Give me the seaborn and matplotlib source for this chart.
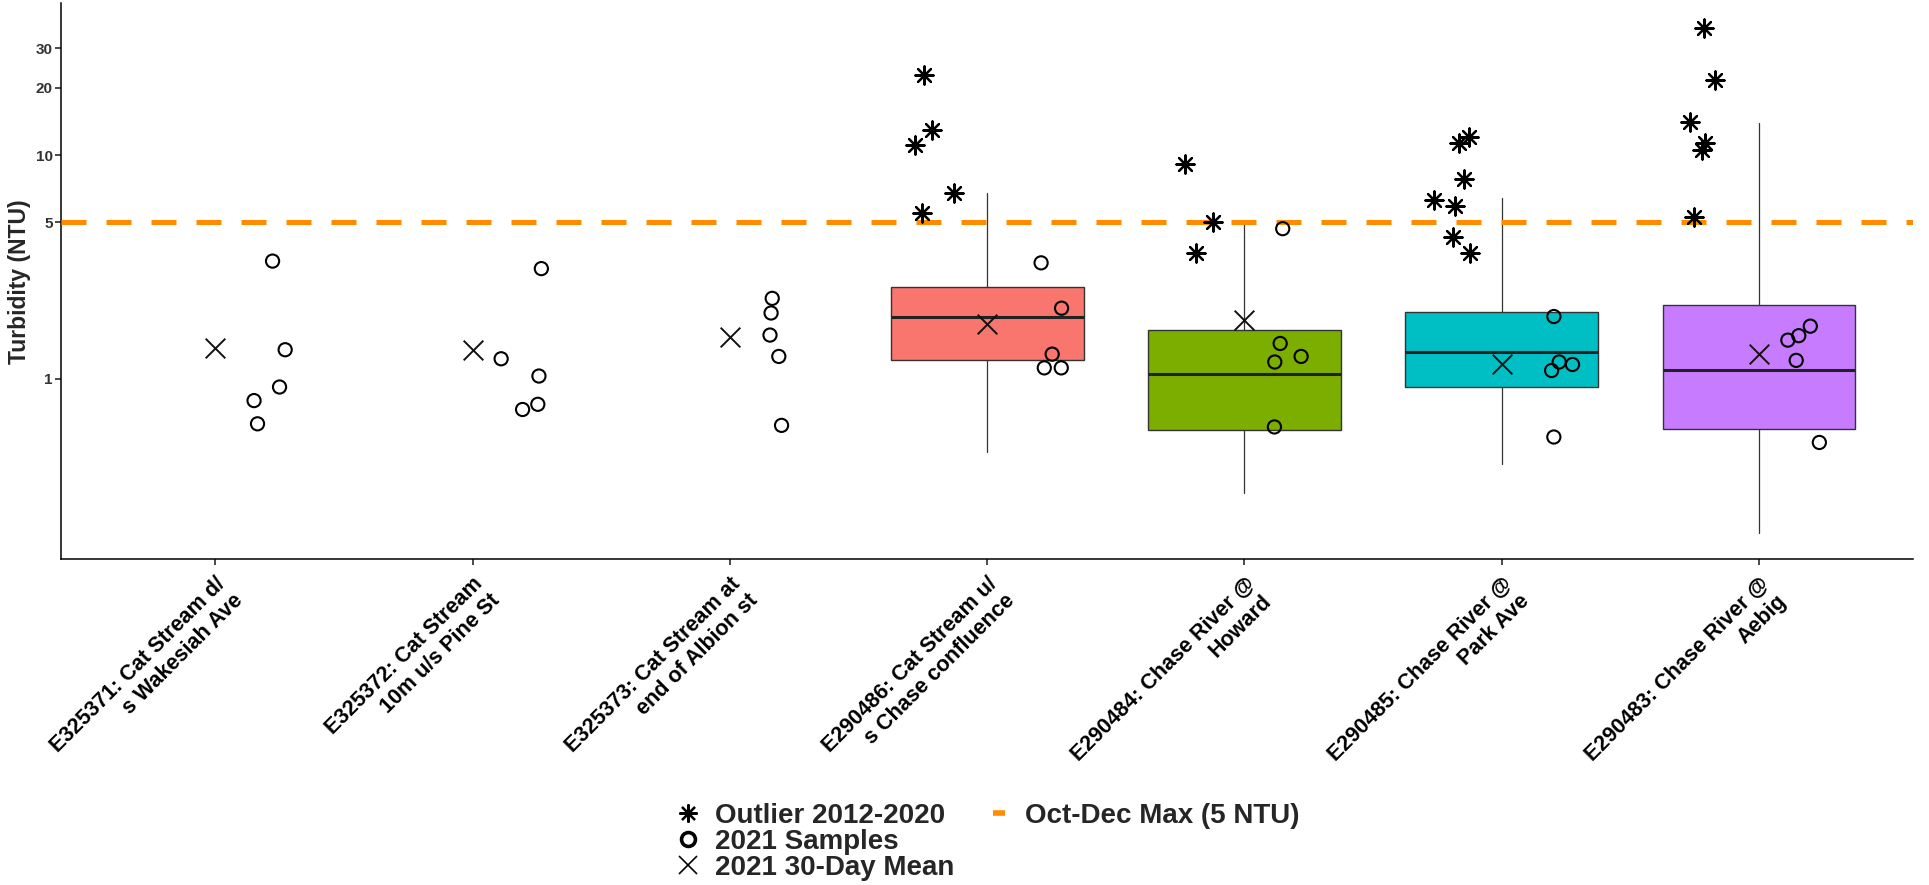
import numpy as np
import pandas as pd
import matplotlib
matplotlib.use("Agg")
import matplotlib.pyplot as plt
from matplotlib.lines import Line2D
from matplotlib.ticker import NullLocator
import seaborn as sns

# Sites (x categories)
sites = [
    "E325371: Cat Stream d/\ns Wakesiah Ave",
    "E325372: Cat Stream\n10m u/s Pine St",
    "E325373: Cat Stream at\nend of Albion st",
    "E290486: Cat Stream u/\ns Chase confluence",
    "E290484: Chase River @\nHoward",
    "E290485: Chase River @\nPark Ave",
    "E290483: Chase River @\nAebig",
]

# 2021 30-day mean per site
mean_2021 = [1.38, 1.35, 1.54, 1.76, 1.83, 1.16, 1.29]

# 2021 samples per site
samples_2021 = [
    [3.36, 1.35, 0.92, 0.80, 0.63],
    [3.11, 1.23, 1.03, 0.77, 0.73],
    [2.29, 1.97, 1.57, 1.26, 0.62],
    [3.30, 2.07, 1.29, 1.12, 1.12],
    [4.69, 1.44, 1.26, 1.19, 0.61],
    [1.90, 1.09, 1.16, 1.19, 0.55],
    [1.72, 1.56, 1.49, 1.21, 0.52],
]

# 2012-2020 box summaries (only last four sites have history)
box_sites = [3, 4, 5, 6]
box_q1 = [1.22, 0.593, 0.916, 0.60]
box_med = [1.89, 1.05, 1.32, 1.10]
box_q3 = [2.58, 1.65, 2.00, 2.13]
box_lo = [0.469, 0.309, 0.415, 0.204]
box_hi = [6.77, 4.96, 6.40, 13.9]
box_colors = ["#F8766D", "#7CAE00", "#00BFC4", "#C77CFF"]

# 2012-2020 outliers
outliers = {
    3: [22.7, 13.0, 11.1, 6.77, 5.5],
    4: [9.16, 5.0, 3.65],
    5: [12.1, 11.3, 7.82, 6.32, 5.93, 4.30, 3.65],
    6: [36.8, 21.7, 14.0, 11.3, 10.5, 5.3],
}

LIMIT = 5
ORANGE = "#FF8C00"

sns.set_theme(style="ticks")
plt.rcParams["font.family"] = ["Liberation Sans", "DejaVu Sans"]
plt.rcParams["font.weight"] = "bold"

fig = plt.figure(figsize=(19.29, 8.85), dpi=100)
ax = fig.add_axes([0.0316, 0.3678, 0.9603, 0.6288])

# boxes from the summary stats
stats = []
for i in range(len(box_sites)):
    stats.append({"med": box_med[i], "q1": box_q1[i], "q3": box_q3[i],
                  "whislo": box_lo[i], "whishi": box_hi[i], "fliers": []})
bp = ax.bxp(stats, positions=box_sites, widths=0.75, patch_artist=True,
            showcaps=False, showfliers=False,
            boxprops={"edgecolor": "#333333", "linewidth": 1.0},
            medianprops={"color": "#222222", "linewidth": 2.2},
            whiskerprops={"color": "#333333", "linewidth": 0.9})
for patch, col in zip(bp["boxes"], box_colors):
    patch.set_facecolor(col)

ax.axhline(LIMIT, color=ORANGE, lw=3.6, dashes=(5, 4), zorder=3)

# jitter like geom_jitter
rng = np.random.default_rng(7)
samp_df = pd.DataFrame({
    "x": [i for i, vals in enumerate(samples_2021) for _ in vals],
    "y": [v for vals in samples_2021 for v in vals],
})
samp_df["xj"] = samp_df["x"] + 0.2 + rng.uniform(-0.09, 0.09, len(samp_df))

out_df = pd.DataFrame({
    "x": [k for k, vals in outliers.items() for _ in vals],
    "y": [v for vals in outliers.values() for v in vals],
})
out_df["xj"] = out_df["x"] - 0.19 + rng.uniform(-0.09, 0.09, len(out_df))

mean_df = pd.DataFrame({"x": range(len(sites)), "y": mean_2021})

sns.scatterplot(data=out_df, x="xj", y="y", marker=(8, 2, 0), s=170,
                color="black", edgecolor="black", linewidth=1.6, zorder=4, ax=ax)
sns.scatterplot(data=samp_df, x="xj", y="y", marker="o", s=90,
                facecolor="none", edgecolor="black", linewidth=1.5, zorder=5, ax=ax)
sns.scatterplot(data=mean_df, x="x", y="y", marker="x", s=200,
                color="#111111", linewidth=1.4, zorder=5, ax=ax)

ax.set_yscale("log")
ax.set_ylim(0.156, 47.8)
ax.set_xlim(-0.6, len(sites) - 0.4)
ax.set_yticks([1, 5, 10, 20, 30])
ax.set_yticklabels(["1", "5", "10", "20", "30"])
ax.yaxis.set_minor_locator(NullLocator())
ax.set_xticks(range(len(sites)))
ax.set_xticklabels(sites, rotation=45, ha="right", va="top",
                   rotation_mode="anchor", fontsize=15.5, fontweight="bold",
                   color="black")
ax.tick_params(axis="x", length=4, color="#333333", pad=6)
ax.tick_params(axis="y", length=4, color="#333333", labelsize=11,
               labelcolor="#333333", pad=2)
ax.set_xlabel("")
ax.set_ylabel("Turbidity (NTU)", fontsize=16.5, fontweight="bold", labelpad=3)
sns.despine(ax=ax)
for sp in ["left", "bottom"]:
    ax.spines[sp].set_color("black")
    ax.spines[sp].set_linewidth(1.1)

# legend: three entries in first column, dashed limit in second
handles = [
    Line2D([], [], marker=(8, 2, 0), color="black", ls="none", markersize=13, mew=1.6),
    Line2D([], [], marker="o", color="black", mfc="none", ls="none", markersize=10, mew=2.6),
    Line2D([], [], marker="x", color="black", ls="none", markersize=13, mew=1.2),
    Line2D([], [], marker="_", color=ORANGE, ls="none", markersize=9, mew=4),
    Line2D([], [], ls="none"),
    Line2D([], [], ls="none"),
]
labels = ["Outlier 2012-2020", "2021 Samples", "2021 30-Day Mean",
          "Oct-Dec Max (5 NTU)", "", ""]
fig.legend(handles, labels, ncol=2, loc="upper left",
           bbox_to_anchor=(680 / 1929, 1 - 803 / 885), frameon=False,
           prop={"size": 20, "weight": "bold"}, handlelength=0.6,
           handletextpad=0.65, columnspacing=1.3, labelspacing=0.0,
           borderpad=0, borderaxespad=0)

fig.savefig("out.png", dpi=100)
